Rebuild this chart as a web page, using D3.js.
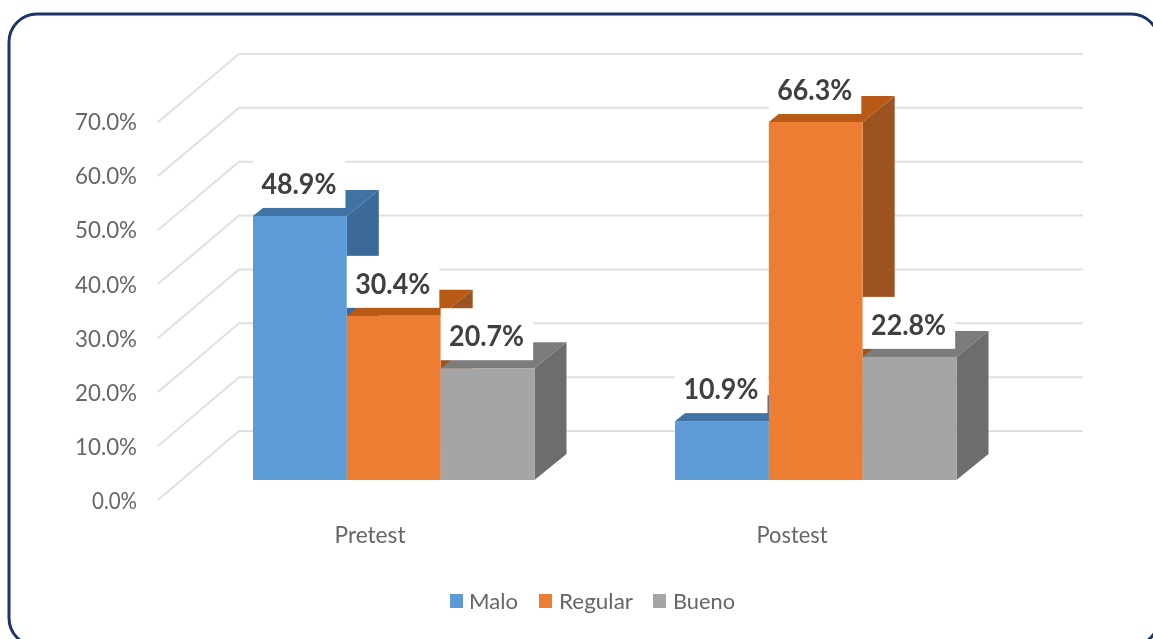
<!DOCTYPE html>
<html><head><meta charset="utf-8">
<script src="https://cdn.jsdelivr.net/npm/d3@7"></script>
<style>html,body{margin:0;padding:0;background:#fff}svg{display:block}text{font-family:Lato,"Open Sans",sans-serif}</style>
</head><body><svg id="c" width="1153" height="639"></svg>
<script>
const categories = ["Pretest", "Postest"];
const seriesNames = ["Malo", "Regular", "Bueno"];
const malo = [48.9, 10.9];
const regular = [30.4, 66.3];
const bueno = [20.7, 22.8];
const tickValues = [0, 10, 20, 30, 40, 50, 60, 70];
const tickLabels = ["0.0%", "10.0%", "20.0%", "30.0%", "40.0%", "50.0%", "60.0%", "70.0%"];
const frontColors = ["#5b9bd5", "#ed7d31", "#a5a5a5"];
const sideColors = ["#3a6a98", "#9c5320", "#6d6d6d"];
const topColors = ["#3f72a3", "#b85a18", "#7b7b7b"];

const svg = d3.select("#c");
const defs = svg.append("defs");
defs.append("filter").attr("id", "soft")
  .attr("filterUnits", "userSpaceOnUse").attr("x", 0).attr("y", 0).attr("width", 1153).attr("height", 639)
  .append("feGaussianBlur").attr("stdDeviation", 0.7);
const root = svg.append("g").attr("filter", "url(#soft)");

// frame
root.append("rect").attr("x", 9).attr("y", 14).attr("width", 1150).attr("height", 632)
  .attr("rx", 28).attr("fill", "#fff").attr("stroke", "#1c3468").attr("stroke-width", 3);

// scales: three parallel value planes (tick wall front, bar front, back wall)
const yTick = d3.scaleLinear().domain([0, 70]).range([500, 122]);
const yBar = d3.scaleLinear().domain([0, 70]).range([480, 102]);
const yBack = d3.scaleLinear().domain([0, 70]).range([431, 54]);
const xCat = d3.scaleBand().domain(categories).range([159, 1003]);
const xSer = d3.scaleBand().domain(seriesNames).range([94, 375.5]);
const depthX = 32, depthY = 26;
const wallFront = 158, wallBack = 239, wallRight = 1083;

// grid
const grid = root.append("g").attr("fill", "none").attr("stroke", "#e0e0e0").attr("stroke-width", 2);
tickValues.forEach(v => {
  grid.append("path").attr("d", d3.line()([[wallFront, yTick(v)], [wallBack, yBack(v)], [wallRight, yBack(v)]]));
});

// y labels
root.append("g").selectAll("text").data(tickValues).join("text")
  .attr("x", 137).attr("y", d => yTick(d) + 8 + (70 - d) * 0.02).attr("text-anchor", "end")
  .attr("font-size", 23).attr("fill", "#666")
  .attr("textLength", (d, i) => tickLabels[i].length === 4 ? 45 : 62).attr("lengthAdjust", "spacingAndGlyphs")
  .text((d, i) => tickLabels[i]);

// category labels
root.append("g").selectAll("text").data(categories).join("text")
  .attr("x", d => xCat(d) + xCat.bandwidth() / 2).attr("y", 543).attr("text-anchor", "middle")
  .attr("font-size", 23).attr("fill", "#666").attr("textLength", 71).attr("lengthAdjust", "spacingAndGlyphs")
  .text(d => d);

// bars
const all = [malo, regular, bueno];
const barsPt = [];
categories.forEach((c, ci) => seriesNames.forEach((s, si) => {
  barsPt.push({ c, s, si, v: all[si][ci], x0: xCat(c) + xSer(s), x1: xCat(c) + xSer(s) + xSer.bandwidth() });
}));
const barsG = root.append("g");
const poly = pts => d3.line()(pts) + "Z";
barsPt.forEach(b => {
  const t = yBar(b.v), base = yBar(0);
  barsG.append("path").attr("fill", sideColors[b.si]).attr("d", poly([[b.x1, t], [b.x1 + depthX, t - depthY], [b.x1 + depthX, base - depthY], [b.x1, base]]));
  barsG.append("path").attr("fill", topColors[b.si]).attr("d", poly([[b.x0, t], [b.x0 + depthX, t - depthY], [b.x1 + depthX, t - depthY], [b.x1, t]]));
  barsG.append("rect").attr("fill", frontColors[b.si]).attr("x", b.x0).attr("y", t).attr("width", b.x1 - b.x0).attr("height", base - t);
});

// data labels with white boxes
const lab = root.append("g");
barsPt.forEach(b => {
  const t = yBar(b.v);
  lab.append("rect").attr("fill", "#fff").attr("x", b.x0).attr("y", t - 60).attr("width", 92.5).attr("height", 52);
});
barsPt.forEach(b => {
  const t = yBar(b.v), cx = (b.x0 + b.x1) / 2 - 1;
  lab.append("text").attr("x", cx).attr("y", t - 22).attr("text-anchor", "middle")
    .attr("font-size", 29).attr("font-weight", 700).attr("fill", "#404040")
    .attr("textLength", 75).attr("lengthAdjust", "spacingAndGlyphs").text(b.v.toFixed(1) + "%");
});

// legend
const legendSwatchX = [450, 539, 653];
const legendTextX = [469, 559, 673];
const legendTextW = [49, 74, 62];
const leg = root.append("g");
seriesNames.forEach((s, i) => {
  leg.append("rect").attr("x", legendSwatchX[i]).attr("y", 594).attr("width", 13).attr("height", 14).attr("fill", frontColors[i]);
  leg.append("text").attr("x", legendTextX[i]).attr("y", 609).attr("font-size", 22).attr("fill", "#666")
    .attr("textLength", legendTextW[i]).attr("lengthAdjust", "spacingAndGlyphs").text(s);
});
</script></body></html>
